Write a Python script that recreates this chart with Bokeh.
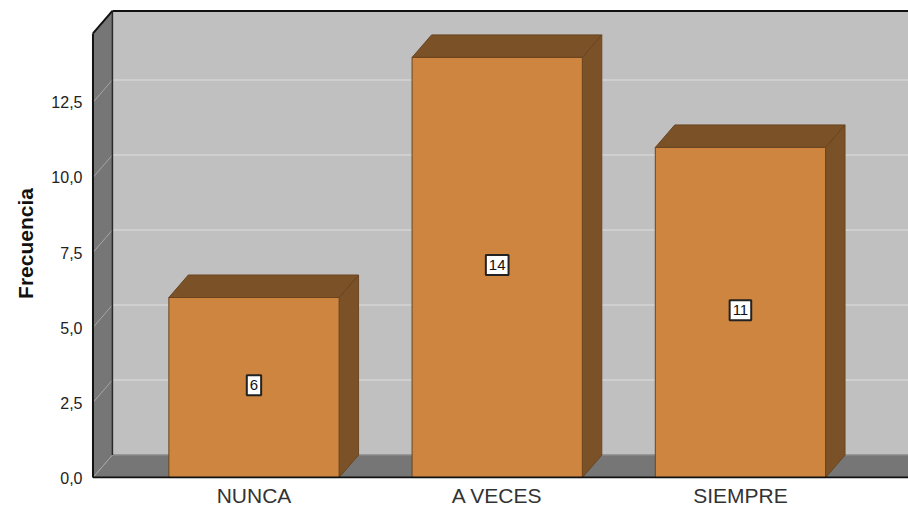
import numpy as np
from bokeh.plotting import figure
from bokeh.models import Range1d, FixedTicker, ColumnDataSource
from bokeh.core.properties import value
from bokeh.embed import file_html
from bokeh.resources import INLINE

# ---------------- data ----------------
categories = ["NUNCA", "A VECES", "SIEMPRE"]
frequencies = [6, 14, 11]
y_ticks = [0, 2.5, 5, 7.5, 10, 12.5]
y_tick_labels = ["0,0", "2,5", "5,0", "7,5", "10,0", "12,5"]
y_title = "Frecuencia"

# ---------------- style / geometry ----------------
FONT = "Liberation Sans"
BAR_HALF = 0.35      # half bar width (category units)
DX = 0.08            # 3D depth, x (category units)
DY = 0.75            # 3D depth, y (value units)
X_LO = 0.338
X_HI = 3.691
WALL_TOP = 14.8
Y_HI = 15.63

FRONT = "#CD853F"
DARK = "#7B5127"
EDGE = "#6A4520"
WALL = "#C0C0C0"
SIDEWALL = "#767676"

xs = np.arange(1, len(categories) + 1, dtype=float)
vals = np.array(frequencies, dtype=float)
XE = X_HI + 1.0

p = figure(width=908, height=509,
           x_range=Range1d(X_LO - 0.006, X_HI), y_range=Range1d(-0.03, Y_HI),
           output_backend="svg", toolbar_location=None,
           min_border_left=91, min_border_right=0, min_border_top=8, min_border_bottom=0,
           background_fill_color="white", border_fill_color="white",
           outline_line_color=None)

# back wall
p.quad(left=[X_LO + DX], right=[XE], bottom=[DY], top=[WALL_TOP + DY],
       fill_color=WALL, line_color=None)
# grid lines on back wall
gt = [t for t in y_ticks if t > 0]
p.segment(x0=[X_LO + DX] * len(gt), y0=[t + DY for t in gt],
          x1=[XE] * len(gt), y1=[t + DY for t in gt],
          line_color="#D4D4D4", line_width=1.5)
# left wall
p.patch([X_LO, X_LO + DX, X_LO + DX, X_LO], [0, DY, WALL_TOP + DY, WALL_TOP],
        fill_color=SIDEWALL, line_color=None)
# floor
p.patch([X_LO, X_LO + DX, XE, XE], [0, DY, DY, 0],
        fill_color=SIDEWALL, line_color=None)
p.segment(x0=[X_LO + DX], y0=[DY], x1=[XE], y1=[DY], line_color="#8A8A8A", line_width=1.5)
# left wall diagonals
p.segment(x0=[X_LO] * len(y_ticks), y0=y_ticks,
          x1=[X_LO + DX] * len(y_ticks), y1=[t + DY for t in y_ticks],
          line_color="#A6A6A6", line_width=1)
# back-left edge
p.segment(x0=[X_LO + DX], y0=[DY], x1=[X_LO + DX], y1=[WALL_TOP + DY],
          line_color="#2A2A2A", line_width=1.5)

# bars
side_x = [[x + BAR_HALF, x + BAR_HALF + DX, x + BAR_HALF + DX, x + BAR_HALF] for x in xs]
side_y = [[0, DY, v + DY, v] for v in vals]
top_x = [[x - BAR_HALF, x - BAR_HALF + DX, x + BAR_HALF + DX, x + BAR_HALF] for x in xs]
top_y = [[v, v + DY, v + DY, v] for v in vals]
p.patches(side_x, side_y, fill_color=DARK, line_color=EDGE, line_width=1)
p.patches(top_x, top_y, fill_color=DARK, line_color=EDGE, line_width=1)
p.quad(left=xs - BAR_HALF, right=xs + BAR_HALF, bottom=0, top=vals,
       fill_color=FRONT, line_color=EDGE, line_width=1)

# frame edges
p.segment(x0=[X_LO, X_LO, X_LO + DX, X_LO],
          y0=[0, WALL_TOP, WALL_TOP + DY, 0],
          x1=[X_LO, X_LO + DX, XE, XE],
          y1=[WALL_TOP, WALL_TOP + DY, WALL_TOP + DY, 0],
          line_color="#111111", line_width=2)

# value labels
src = ColumnDataSource(dict(x=xs, y=vals / 2 + 0.08, t=[str(int(v)) for v in vals]))
p.text(x="x", y="y", text="t", source=src,
       text_align="center", text_baseline="middle",
       text_font=value(FONT), text_font_size="15px", text_color="#111111",
       background_fill_color="white", border_line_color="#222222",
       border_line_width=2, padding=dict(left=3, right=3, top=5, bottom=5))

# axes
p.xgrid.visible = False
p.ygrid.visible = False

p.xaxis.ticker = FixedTicker(ticks=list(xs))
p.xaxis.major_label_overrides = {float(x): c for x, c in zip(xs, categories)}
p.xaxis.axis_line_color = None
p.xaxis.major_tick_line_color = None
p.xaxis.minor_tick_line_color = None
p.xaxis.major_tick_out = 0
p.xaxis.major_tick_in = 0
p.xaxis.major_label_standoff = 5
p.xaxis.major_label_text_font = FONT
p.xaxis.major_label_text_font_size = "21px"
p.xaxis.major_label_text_color = "#333333"

p.yaxis.ticker = FixedTicker(ticks=y_ticks)
p.yaxis.major_label_overrides = {float(t): s for t, s in zip(y_ticks, y_tick_labels)}
p.yaxis.axis_line_color = None
p.yaxis.major_tick_line_color = None
p.yaxis.minor_tick_line_color = None
p.yaxis.major_tick_out = 0
p.yaxis.major_tick_in = 0
p.yaxis.major_label_standoff = 9
p.yaxis.major_label_text_font = FONT
p.yaxis.major_label_text_font_size = "16px"
p.yaxis.major_label_text_color = "#222222"
p.yaxis.axis_label = y_title
p.yaxis.axis_label_text_font = FONT
p.yaxis.axis_label_text_font_style = "bold"
p.yaxis.axis_label_text_font_size = "21px"
p.yaxis.axis_label_text_color = "#111111"
p.yaxis.axis_label_standoff = 11

open("out.html", "w").write(file_html(p, INLINE))
